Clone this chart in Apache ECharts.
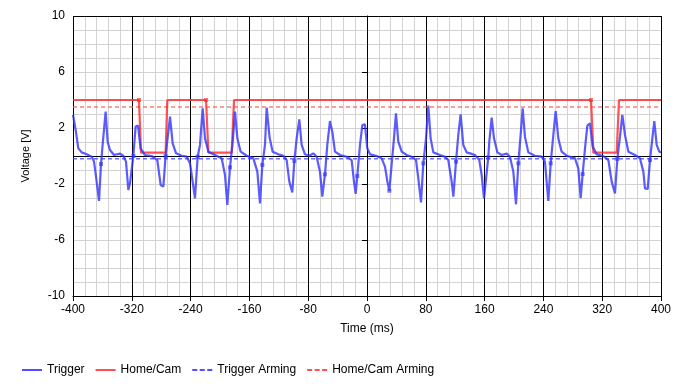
<!DOCTYPE html>
<html>
<head>
<meta charset="utf-8">
<script src="https://cdn.jsdelivr.net/npm/echarts@6/dist/echarts.min.js"></script>
<style>
html,body{margin:0;padding:0;background:#fff;}
#chart{width:684px;height:388px;}
</style>
</head>
<body>
<div id="chart"></div>
<script>
// Trigger waveform (time ms, voltage V)
const triggerTime = [-400,-396,-392.8,-388.2,-381.4,-374.6,-371.4,-368.7,-364.6,-361.9,-359.7,-355.6,-352.9,-349.7,-344.2,-336.1,-331.5,-327.9,-324.7,-322.5,-317.9,-314.8,-311.6,-308,-302.1,-293,-285.3,-280.7,-277.1,-274,-268,-264.4,-259.8,-252.1,-245.3,-240.8,-234,-230.4,-227.2,-223.6,-220.4,-215.8,-206.8,-197.7,-193.2,-190,-186.4,-182.7,-179.6,-176.4,-171.9,-163.7,-154.6,-149.2,-145.6,-142.4,-138.8,-136.5,-132.5,-128.4,-120.6,-113.8,-109.3,-105.7,-101.6,-98.9,-95.7,-92.1,-88.9,-84.4,-78.5,-73,-68.5,-64,-60.8,-57.2,-54,-50.4,-47.2,-43.6,-36.7,-27.7,-20.9,-17.7,-15.4,-13.2,-9.5,-6.4,-2.8,0.4,4.1,13.1,19.9,24.5,27.7,30.4,33.5,36.7,39.4,42.6,47.2,54,60.8,66.7,69.8,73.5,76.6,80.3,83.4,86.6,90.2,99.3,106.1,110.6,115.2,117.5,121.1,124.2,127.4,131,135.6,140.1,146.9,152.8,156,159.2,165,166.4,169.6,172.8,177.3,183.2,190,194.5,199.1,202.7,205.9,209,211.8,214.9,219.5,228.5,237.6,242.1,244.4,246.7,249.9,253.5,256.7,260.3,264.8,271.6,276.2,283,287.5,290.7,293.4,296.6,299.8,303.4,307,312.5,321.5,328.4,332.9,337.4,340.6,344.2,347.4,351,355.6,364.6,371.4,376,378.2,381.9,385,388.2,390.9,394.1,397.7,400];
const triggerVolt = [2.95,1.74,0.55,0.26,0.12,-0.05,-0.4,-1.48,-3.21,-0.57,0.79,3.17,1.02,0.43,0.07,0.17,0.02,-0.4,-2.43,-1.95,0,2.1,2.17,0.55,0.07,0,-0.29,-2.07,-2.19,0,2.81,0.9,0.19,0.02,-0.05,-0.52,-3.02,-0.05,0.79,3.4,1.26,0.31,0.07,-0.17,-1.36,-3.5,-0.81,1.02,3.17,1.26,0.31,0.02,-0.17,-1.12,-3.38,-0.64,0.79,3.45,1.3,0.31,0.12,0.02,-0.29,-1.83,-2.6,-0.36,1.26,2.62,0.79,0.12,0.02,0.19,-0.05,-1.12,-2.9,-1.31,0.79,2.5,1.74,0.31,0.07,-0.05,-0.29,-1.83,-2.71,-1.43,0.79,2.21,2.26,0.55,0.12,0,-0.17,-0.76,-1.83,-2.48,-0.64,1.26,3.05,1.02,0.31,0.07,-0.05,-0.29,-1.6,-3.31,-0.52,1.26,3.6,1.26,0.26,0.07,-0.05,-0.29,-1.83,-2.9,-0.4,1.5,2.98,0.79,0.26,0.19,0.07,-0.29,-1.36,-3.02,-0.1,1.02,2.74,1.26,0.26,0.07,0.17,-0.05,-1.12,-3.45,-0.52,1.5,3.4,1.38,0.26,0.02,-0.05,-0.4,-1.83,-3.21,-0.52,1.5,3.21,1.26,0.31,0.02,-0.05,-0.17,-0.88,-3.02,-1.29,0.55,2.17,2.33,0.67,0.12,0,-0.29,-1.83,-2.67,-0.21,1.38,2.93,1.5,0.31,0.07,-0.17,-1.12,-2.31,-2.36,-0.29,1.26,2.5,0.79,0.31,0.26];
// Trigger marker points
const triggerMarkTime = [-361.9,-317.9,-274,-230.4,-186.4,-142.4,-98.9,-57.2,-13.2,30.4,76.6,121.1,165,205.9,249.9,293.4,340.6,385];
const triggerMarkVolt = [-0.57,0,0,-0.05,-0.81,-0.64,-0.36,-1.31,-1.43,-2.48,-0.52,-0.4,-0.1,-0.52,-0.52,-1.29,-0.21,-0.29];
// Home/Cam waveform
const homeTime = [-400,-310.2,-307.5,-274,-271.7,-219,-215.8,-184.1,-180.9,304.8,308,339.7,342.9,400];
const homeVolt = [4,4,0.24,0.24,4,4,0.24,0.24,4,4,0.24,0.24,4,4];
const homeMarkTime = [-310.2,-219,304.8];
const homeMarkVolt = [4,4,4];
// Arming levels
const triggerArming = -0.2;
const homeArming = 3.5;
// Axis ticks
const xTicks = {min:-400, max:400, interval:80};
const yTicks = {min:-10, max:10, interval:4};
const yMajorLines = [0, 10];
const legendNames = ['Trigger','Home/Cam','Trigger Arming','Home/Cam Arming'];

const zip = (a,b) => a.map((v,i)=>[v,b[i]]);
const BLUE = 'rgba(50,50,255,0.8)';
const RED = 'rgba(255,40,40,0.8)';
const BLUE_DASH = 'rgba(60,60,255,0.75)';
const RED_DASH = 'rgba(255,90,90,0.6)';
const FONT = 'Liberation Sans';
const SOLID_ICON = 'path://M0,0H20V2H0Z';
const DASH_ICON = 'path://M0,0H5V2H0Z M7.5,0H12.5V2H7.5Z M15,0H20V2H15Z';

const chart = echarts.init(document.getElementById('chart'), null, {renderer:'canvas'});
chart.setOption({
  animation:false,
  textStyle:{fontFamily:FONT},
  grid:{left:73, right:23, top:16, bottom:92, show:false},
  xAxis:{
    type:'value', min:xTicks.min, max:xTicks.max, interval:xTicks.interval,
    name:'Time (ms)', nameLocation:'middle', nameGap:27,
    nameTextStyle:{color:'#000', fontSize:12, fontFamily:FONT},
    axisLine:{onZero:false, lineStyle:{color:'#000', width:1}},
    axisTick:{show:true, length:5, lineStyle:{color:'#000'}},
    axisLabel:{color:'#000', fontSize:12, margin:8, fontFamily:FONT},
    splitLine:{show:true, lineStyle:{color:'#000', width:1}},
    minorTick:{show:false, splitNumber:5},
    minorSplitLine:{show:true, lineStyle:{color:'#d3d3d3', width:1}}
  },
  yAxis:{
    type:'value', min:yTicks.min, max:yTicks.max, interval:yTicks.interval,
    name:'Voltage [V]', nameLocation:'middle', nameGap:42,
    nameTextStyle:{color:'#000', fontSize:11, fontFamily:FONT},
    axisLine:{show:true, lineStyle:{color:'#000', width:1}},
    axisTick:{show:true, length:5, lineStyle:{color:'#000'}},
    axisLabel:{color:'#000', fontSize:12, margin:8, fontFamily:FONT},
    splitLine:{show:true, lineStyle:{color:'#d3d3d3', width:1}},
    minorTick:{show:false, splitNumber:4},
    minorSplitLine:{show:true, lineStyle:{color:'#d3d3d3', width:1}}
  },
  legend:{
    left:17, bottom:7, itemGap:11, itemWidth:20, itemHeight:2,
    textStyle:{color:'#000', fontSize:12, fontFamily:FONT},
    data:[
      {name:legendNames[0], icon:SOLID_ICON},
      {name:legendNames[1], icon:SOLID_ICON},
      {name:legendNames[2], icon:DASH_ICON},
      {name:legendNames[3], icon:DASH_ICON}
    ]
  },
  series:[
    {name:'Trigger', type:'line', data:zip(triggerTime,triggerVolt), symbol:'none',
     lineStyle:{color:BLUE, width:2.2}, itemStyle:{color:'#5050ff'}, z:5},
    {name:'Trigger marks', type:'scatter', data:zip(triggerMarkTime,triggerMarkVolt),
     symbol:'rect', symbolSize:4, itemStyle:{color:BLUE}, z:6},
    {name:'Home/Cam', type:'line', data:zip(homeTime,homeVolt), symbol:'none',
     lineStyle:{color:RED, width:2.2}, itemStyle:{color:'#ff5050'}, z:4},
    {name:'Home/Cam marks', type:'scatter', data:zip(homeMarkTime,homeMarkVolt),
     symbol:'rect', symbolSize:4, itemStyle:{color:RED}, z:4},
    {name:'Trigger Arming', type:'line', data:[[xTicks.min,triggerArming],[xTicks.max,triggerArming]], symbol:'none',
     lineStyle:{color:BLUE_DASH, width:1.5, type:[4,3]}, itemStyle:{color:'#5050ff'}, z:3,
     markLine:{silent:true, symbol:'none', label:{show:false},
       lineStyle:{color:'#000', width:1, type:'solid'},
       data:yMajorLines.map(v=>({yAxis:v}))}},
    {name:'Home/Cam Arming', type:'line', data:[[xTicks.min,homeArming],[xTicks.max,homeArming]], symbol:'none',
     lineStyle:{color:RED_DASH, width:2, type:[4,3]}, itemStyle:{color:'#ff5050'}, z:3}
  ]
});
</script>
</body>
</html>
